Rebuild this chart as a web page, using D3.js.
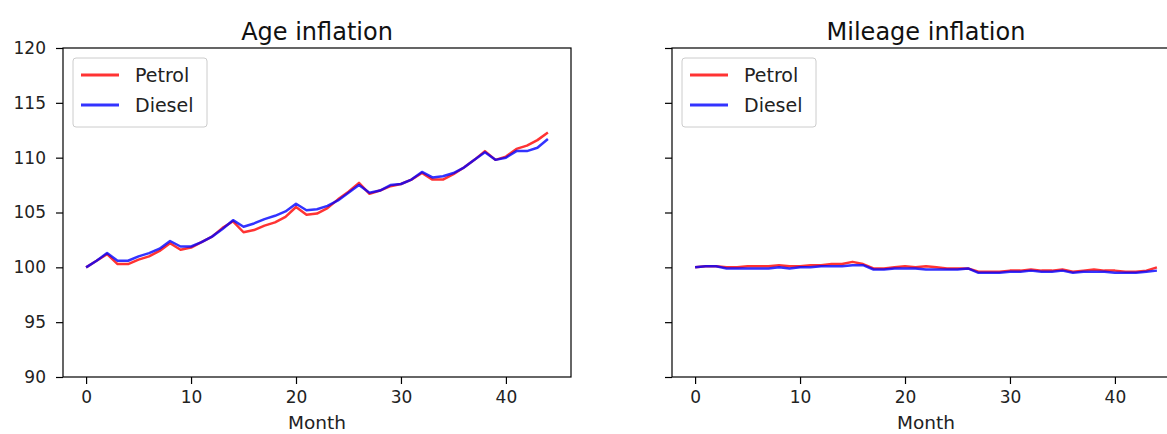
<!DOCTYPE html>
<html><head><meta charset="utf-8">
<script src="https://cdn.jsdelivr.net/npm/d3@7"></script>
<style>body{margin:0;background:#fff;} svg{display:block;font-family:"DejaVu Sans",sans-serif;}</style>
</head><body>
<svg id="c" width="1167" height="434"></svg>
<script>
const months = d3.range(0, 45);
const agePetrol = [100,100.6,101.2,100.3,100.3,100.7,101.0,101.5,102.2,101.6,101.8,102.3,102.8,103.6,104.2,103.2,103.4,103.8,104.1,104.6,105.5,104.8,104.9,105.4,106.2,106.9,107.7,106.7,107.0,107.4,107.6,108.0,108.6,108.0,108.0,108.5,109.1,109.8,110.6,109.8,110.1,110.8,111.1,111.6,112.3];
const ageDiesel = [100,100.6,101.3,100.6,100.6,101.0,101.3,101.7,102.4,101.9,101.9,102.3,102.8,103.5,104.3,103.7,104.0,104.4,104.7,105.1,105.8,105.2,105.3,105.6,106.1,106.8,107.5,106.8,107.0,107.5,107.6,108.0,108.7,108.2,108.3,108.6,109.1,109.8,110.5,109.8,110.0,110.6,110.6,110.9,111.7];
const milPetrol = [100,100.1,100.1,100.0,100.0,100.1,100.1,100.1,100.2,100.1,100.1,100.2,100.2,100.3,100.3,100.5,100.3,99.9,99.9,100.0,100.1,100.0,100.1,100.0,99.9,99.9,99.9,99.6,99.6,99.6,99.7,99.7,99.8,99.7,99.7,99.8,99.6,99.7,99.8,99.7,99.7,99.6,99.6,99.7,100.0];
const milDiesel = [100,100.1,100.1,99.9,99.9,99.9,99.9,99.9,100.0,99.9,100.0,100.0,100.1,100.1,100.1,100.2,100.2,99.8,99.8,99.9,99.9,99.9,99.8,99.8,99.8,99.8,99.9,99.5,99.5,99.5,99.6,99.6,99.7,99.6,99.6,99.7,99.5,99.6,99.6,99.6,99.5,99.5,99.5,99.6,99.7];
const xTicks = [0,10,20,30,40];
const yTicks = [90,95,100,105,110,115,120];
const seriesNames = ["Petrol","Diesel"];
const colors = ["#ff0000","#0000ff"];

const svg = d3.select("#c");
const plotTop = 48, plotBottom = 377;
const y = d3.scaleLinear().domain([90,120]).range([plotBottom, plotTop]);

function panel(left, right, title, data, showYLabels) {
  const x = d3.scaleLinear().domain([-2.2, 46.2]).range([left, right]);
  const g = svg.append("g");
  data.forEach((vals, i) => {
    g.append("path")
      .datum(vals)
      .attr("fill","none")
      .attr("stroke", colors[i])
      .attr("stroke-opacity", 0.8)
      .attr("stroke-width", 2.5)
      .attr("stroke-linejoin","round")
      .attr("d", d3.line().x((d,j)=>x(months[j])).y(d=>y(d)));
  });
  const xa = g.append("g").attr("transform",`translate(0,${plotBottom})`)
    .call(d3.axisBottom(x).tickValues(xTicks).tickSize(7).tickPadding(7).tickFormat(d3.format("d")));
  const ya = g.append("g").attr("transform",`translate(${left},0)`)
    .call(d3.axisLeft(y).tickValues(yTicks).tickSize(7).tickPadding(10).tickFormat(showYLabels ? d3.format("d") : ""));
  [xa, ya].forEach(a => {
    a.select(".domain").remove();
    a.selectAll("line").attr("stroke","#000").attr("stroke-width",1.2);
    a.selectAll("text").attr("font-size",17).attr("fill","#222").attr("font-family","DejaVu Sans");
  });
  g.append("rect").attr("x",left).attr("y",plotTop).attr("width",right-left).attr("height",plotBottom-plotTop)
    .attr("fill","none").attr("stroke","#000").attr("stroke-width",1.2);
  g.append("text").attr("x",(left+right)/2).attr("y",40).attr("text-anchor","middle")
    .attr("font-size",24).attr("fill","#111").text(title);
  g.append("text").attr("x",(left+right)/2).attr("y",429).attr("text-anchor","middle")
    .attr("font-size",18.5).attr("fill","#222").text("Month");
  const lg = g.append("g").attr("transform",`translate(${left+10},${plotTop+10})`);
  lg.append("rect").attr("width",134).attr("height",69).attr("rx",3)
    .attr("fill","#fff").attr("fill-opacity",0.8).attr("stroke","#ccc");
  seriesNames.forEach((n,i) => {
    const yy = 17 + i*30;
    lg.append("line").attr("x1",8).attr("x2",46).attr("y1",yy).attr("y2",yy)
      .attr("stroke",colors[i]).attr("stroke-opacity",0.8).attr("stroke-width",2.8);
    lg.append("text").attr("x",62).attr("y",yy+6.5).attr("font-size",19).attr("fill","#222").text(n);
  });
}
panel(63, 571, "Age inflation", [agePetrol, ageDiesel], true);
panel(672, 1180, "Mileage inflation", [milPetrol, milDiesel], false);
</script>
</body></html>
